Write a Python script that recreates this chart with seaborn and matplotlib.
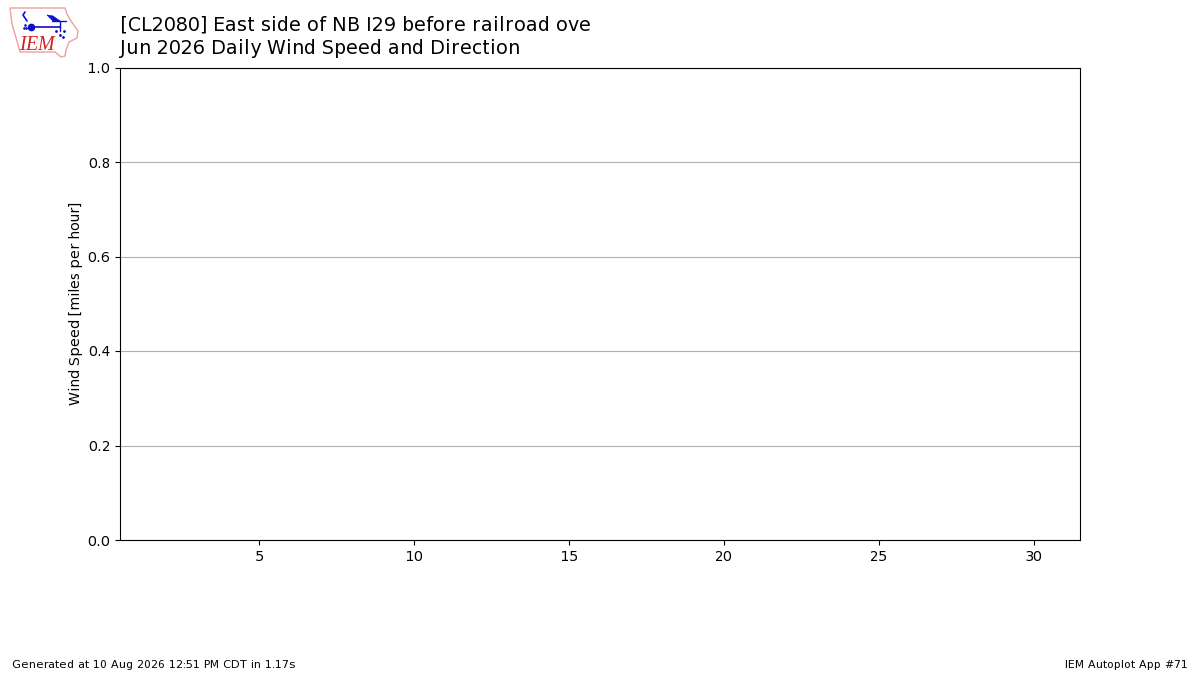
import matplotlib
matplotlib.use("Agg")
import matplotlib.pyplot as plt
import matplotlib.patches as mpatches
import seaborn as sns

sns.set_style("ticks")
plt.rcParams['font.family'] = ['DejaVu Sans']
plt.rcParams['text.color'] = 'black'
plt.rcParams['axes.labelcolor'] = 'black'
plt.rcParams['text.hinting'] = 'auto'
plt.rcParams['text.hinting_factor'] = 1

# Data: the month has no observations, only axis furniture
titulo = ["[CL2080] East side of NB I29 before railroad ove",
          "Jun 2026 Daily Wind Speed and Direction"]
dias = []
velocidad = []
x_ticks = [5, 10, 15, 20, 25, 30]
y_ticks = [0.0, 0.2, 0.4, 0.6, 0.8, 1.0]
y_label = "Wind Speed [miles per hour]"
pie_izq = "Generated at 10 Aug 2026 12:51 PM CDT in 1.17s"
pie_der = "IEM Autoplot App #71"

fig = plt.figure(figsize=(12, 6.75), dpi=100)
ax = fig.add_axes([0.1, 0.2, 0.8, 0.7])

sns.barplot(x=dias, y=velocidad, ax=ax)
ax.set_xlim(0.5, 31.5)
ax.set_ylim(0, 1)
ax.set_xticks(x_ticks)
ax.set_yticks(y_ticks)
ax.set_xticklabels([str(t) for t in x_ticks])
ax.set_yticklabels([f"{t:.1f}" for t in y_ticks])
ax.tick_params(labelsize=10, length=3.5, width=0.8, colors="black")
ax.set_ylabel(y_label, fontsize=10, labelpad=3)
ax.set_xlabel("")
ax.yaxis.grid(True, color="#b0b0b0", linewidth=0.8)
ax.set_axisbelow(True)
for s in ax.spines.values():
    s.set_visible(True)
    s.set_linewidth(0.8)
    s.set_color("black")

# Titulo
fig.text(0.1, 0.9625, titulo[0], fontsize=13.68, va="center", ha="left")
fig.text(0.1, 0.9285, titulo[1], fontsize=13.68, va="center", ha="left")

# Pie de pagina
fig.text(0.01, 0.0148, pie_izq, fontsize=8, va="center", ha="left")
fig.text(0.99, 0.0148, pie_der, fontsize=8, va="center", ha="right")

# Logo IEM
logo = fig.add_axes([0.0, 0.91, 0.07, 0.09])
logo.set_xlim(0, 84)
logo.set_ylim(60.75, 0)
logo.axis("off")
contorno = [(10, 8), (65, 8), (67, 14), (71, 21), (78, 31), (77, 38), (69, 42),
            (66, 50), (65, 56), (61, 57), (55, 52), (20, 52), (17, 41), (12, 24)]
logo.add_patch(mpatches.Polygon(contorno, closed=True, fc="white", ec="#eda0a0", lw=1))
azul = "#1010c8"
logo.plot([31, 60], [27, 27], color=azul, lw=1.2)
logo.plot([31], [27], "o", color=azul, ms=4.5)
logo.plot([60, 60], [21, 31], color=azul, lw=1)
logo.plot([52, 66], [21, 21], color=azul, lw=1)
logo.add_patch(mpatches.Polygon([(47, 15), (53, 16), (60, 21), (53, 21)], closed=True, fc=azul, ec=azul, lw=0.5))
logo.plot([27, 23, 25], [21, 15, 12], color=azul, lw=1.2)
logo.plot([24, 26, 25], [28, 28, 25], ".", color=azul, ms=1.8)
logo.plot([56, 60, 64, 63], [31, 35, 31, 37], ".", color=azul, ms=2)
logo.text(37.5, 45, "IEM", color="#cc2222", fontsize=14.5, family="Liberation Serif",
          style="italic", ha="center", va="center")

fig.savefig("out.png", dpi=100)
